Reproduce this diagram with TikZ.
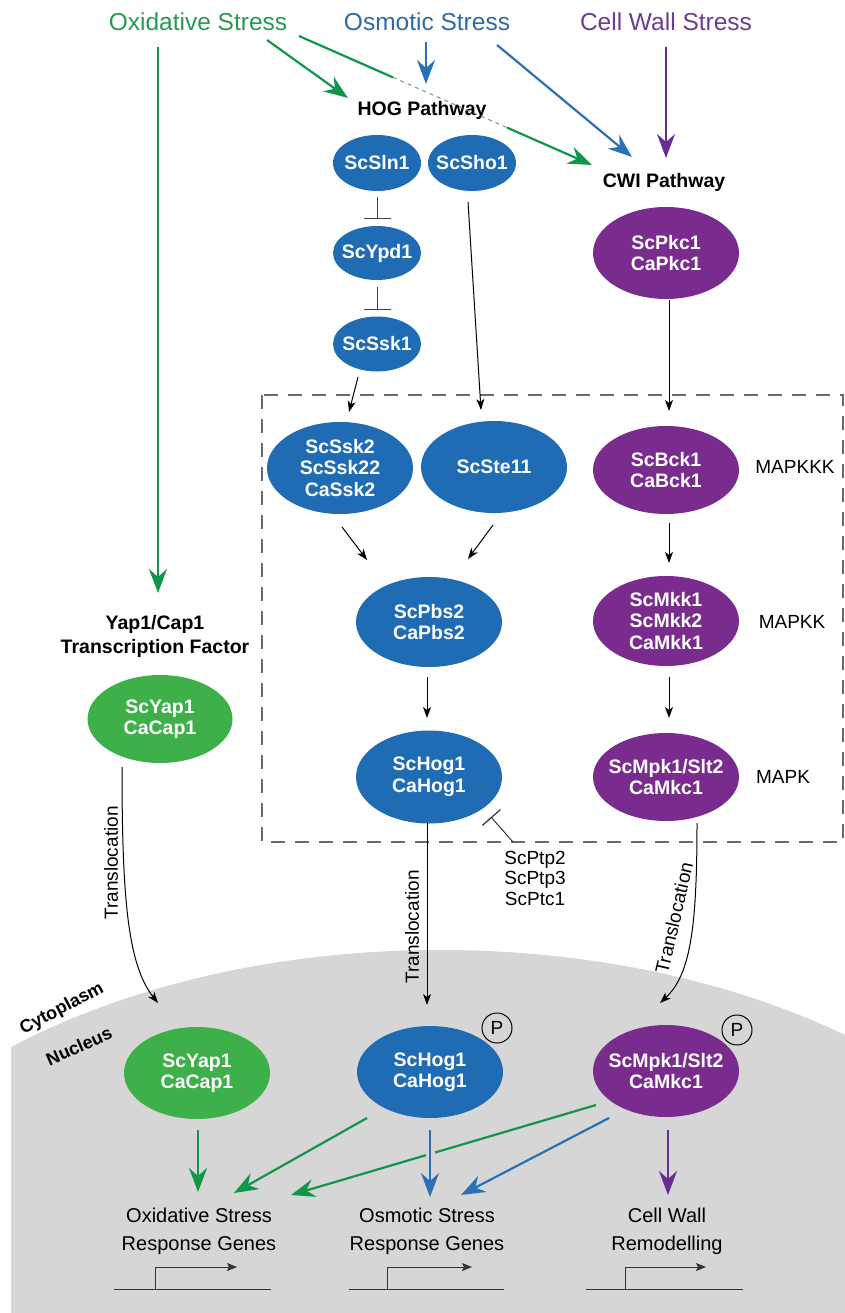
\documentclass[tikz,border=0pt]{standalone}
\usepackage{fontspec}
\setmainfont{Liberation Sans}
\usetikzlibrary{shapes.geometric, arrows.meta, calc}
\definecolor{gline}{RGB}{16,150,72}
\definecolor{bline}{RGB}{40,112,184}
\definecolor{pline}{RGB}{104,44,146}
\definecolor{yapfill}{RGB}{62,176,74}
\definecolor{hogfill}{RGB}{31,108,180}
\definecolor{cwifill}{RGB}{122,44,142}
\definecolor{gtitle}{RGB}{40,154,80}
\definecolor{btitle}{RGB}{46,106,166}
\definecolor{ptitle}{RGB}{111,58,145}
\definecolor{nucgray}{RGB}{214,214,214}
\definecolor{boxgray}{RGB}{105,105,105}
\begin{document}
\begin{tikzpicture}[x=1pt,y=1pt,
  nd/.style={ellipse, inner xsep=-12pt, inner ysep=0pt, align=center, text=white, font=\bfseries\fontsize{19.5}{21.5}\selectfont},
  sz/.style 2 args={minimum width=#1pt, minimum height=#2pt},
  hogn/.style={nd, fill=hogfill},
  cwin/.style={nd, fill=cwifill},
  yapn/.style={nd, fill=yapfill},
  title/.style={font=\fontsize{24.5}{27}\selectfont, inner sep=0pt},
  hdr/.style={font=\bfseries\fontsize{19.5}{24}\selectfont, align=center, inner sep=0pt},
  lbl/.style={font=\fontsize{19}{20.5}\selectfont, align=center, inner sep=0pt},
  gene/.style={font=\fontsize{20}{28}\selectfont, align=center, inner sep=0pt},
  blk/.style={draw=black, line width=1pt, -{Stealth[length=11pt,width=8pt,inset=3pt]}},
  col/.style={line width=2.2pt, -{Stealth[length=24pt,width=18pt,inset=8pt]}},
  inh/.style={draw=black!75, line width=1pt, -{Bar[width=27pt,line width=1.2pt]}},
  prom/.style={draw=black!80, line width=1pt},
  pcirc/.style={draw=black, line width=1pt, circle, minimum size=30pt, inner sep=0pt, font=\fontsize{19}{20}\selectfont},
]
\useasboundingbox (0,0) rectangle (845,-1313);

% nucleus background
\begin{scope}
  \clip (11,-1313) rectangle (845,-900);
  \fill[nucgray] (440,-1340) ellipse [x radius=650, y radius=390];
\end{scope}

% dashed box
\draw[boxgray, line width=1.3pt, dash pattern=on 14pt off 10pt] (262,-395) rectangle (843,-842);

% titles
\node[title, text=gtitle] (oxi) at (198,-22) {Oxidative Stress};
\node[title, text=btitle] (osm) at (427,-22) {Osmotic Stress};
\node[title, text=ptitle] (cws) at (666,-22) {Cell Wall Stress};

\node[hdr] (hogp) at (422,-110) {HOG Pathway};
\node[hdr] (cwip) at (664,-182) {CWI Pathway};
\node[hdr] (yaplbl) at (155,-636) {Yap1/Cap1\\Transcription Factor};

% HOG nodes
\node[hogn, sz={88}{56}] (sln1) at (377,-163) {ScSln1};
\node[hogn, sz={88}{56}] (sho1) at (472,-163) {ScSho1};
\node[hogn, sz={88}{54}] (ypd1) at (377,-253) {ScYpd1};
\node[hogn, sz={88}{55}] (ssk1) at (377,-344) {ScSsk1};
\node[hogn, sz={146}{92}] (ssk2) at (340,-468) {ScSsk2\\ScSsk22\\CaSsk2};
\node[hogn, sz={146}{92}] (ste11) at (494,-467) {ScSte11};
\node[hogn, sz={146}{90}] (pbs2) at (429,-622) {ScPbs2\\CaPbs2};
\node[hogn, sz={146}{93}] (hog1) at (429,-777) {ScHog1\\CaHog1};

% CWI nodes
\node[cwin, sz={146}{92}] (pkc1) at (666,-253) {ScPkc1\\CaPkc1};
\node[cwin, sz={146}{88}] (bck1) at (666,-470) {ScBck1\\CaBck1};
\node[cwin, sz={146}{90}] (mkk1) at (666,-621) {ScMkk1\\ScMkk2\\CaMkk1};
\node[cwin, sz={146}{88}] (mpk1) at (666,-777) {ScMpk1/Slt2\\CaMkc1};

\node[lbl] (mkkk) at (795,-467) {MAPKKK};
\node[lbl] (mkk) at (792,-622) {MAPKK};
\node[lbl] (mk) at (783,-777) {MAPK};

% Yap
\node[yapn, sz={145}{88}] (yap) at (160,-719) {ScYap1\\CaCap1};

% phosphatases
\node[lbl] (ptp) at (535,-878) {ScPtp2\\ScPtp3\\ScPtc1};

% nucleus nodes
\node[yapn, sz={146}{92}] (nyap) at (197,-1073) {ScYap1\\CaCap1};
\node[hogn, sz={146}{92}] (nhog) at (430,-1072) {ScHog1\\CaHog1};
\node[cwin, sz={146}{92}] (nmpk) at (666,-1071) {ScMpk1/Slt2\\CaMkc1};
\node[pcirc] (p1) at (497,-1028) {P};
\node[pcirc] (p2) at (737,-1030) {P};

\node[font=\bfseries\fontsize{18}{20}\selectfont, rotate=28, inner sep=0pt] (cyto) at (62,-1009) {Cytoplasm};
\node[font=\bfseries\fontsize{18}{20}\selectfont, rotate=24, inner sep=0pt] (nucl) at (79,-1046) {Nucleus};

% genes
\node[gene] (goxi) at (199,-1231) {Oxidative Stress\\Response Genes};
\node[gene] (gosm) at (427,-1231) {Osmotic Stress\\Response Genes};
\node[gene] (gcw) at (667,-1231) {Cell Wall\\Remodelling};

% coordinates for connector ends
\coordinate (g1a) at (158,-47);   \coordinate (g1b) at (158,-593);
\coordinate (g2a) at (267,-40);   \coordinate (g2b) at (348,-98);
\coordinate (g3a) at (299,-36);   \coordinate (g3m) at (393,-77.4);
\coordinate (g3n) at (507,-127.6); \coordinate (g3b) at (592,-165);
\coordinate (b1a) at (426,-42);   \coordinate (b1b) at (426,-84);
\coordinate (b2a) at (497,-45);   \coordinate (b2b) at (632,-157);
\coordinate (p1a) at (666,-47);   \coordinate (p1b) at (666,-158);

% top colored arrows
\draw[col, gline] (g1a) -- (g1b);
\draw[col, gline] (g2a) -- (g2b);
\draw[gline, line width=2.2pt] (g3a) -- (g3m);
\draw[black!45, line width=1pt, dash pattern=on 4pt off 4pt] (g3m) -- (g3n);
\draw[col, gline] (g3n) -- (g3b);
\draw[col, bline] (b1a) -- (b1b);
\draw[col, bline] (b2a) -- (b2b);
\draw[col, pline] (p1a) -- (p1b);

% inhibitions
\draw[inh] ([yshift=-6pt]sln1.south) -- ([yshift=7pt]ypd1.north);
\draw[inh] ([yshift=-7pt]ypd1.south) -- ([yshift=6pt]ssk1.north);
\coordinate (ptpa) at (513,-842);
\draw[draw=black!80, line width=1pt, -{Bar[width=24pt,line width=1.2pt]}] (ptpa) -- (491,-817);

% black arrows
\draw[blk] (468,-202) -- (481,-410);
\draw[blk] (358,-377) -- (349,-412);
\draw[blk] (669,-300) -- (669,-411);
\draw[blk] (342,-527) -- (367,-560);
\draw[blk] (493,-525) -- (468,-559);
\draw[blk] (427,-677) -- (427,-718);
\draw[blk] (669,-523) -- (669,-563);
\draw[blk] (669,-677) -- (669,-718);

% translocations
\draw[blk] (122,-767) .. controls (122,-900) and (128,-965) .. (158,-1003);
\draw[blk] (427,-823) -- (427,-1005);
\draw[blk] (697,-823) .. controls (697,-930) and (690,-975) .. (660,-1003);
\node[lbl, rotate=90] (tl1) at (111,-863) {Translocation};
\node[lbl, rotate=90] (tl2) at (412,-927) {Translocation};
\node[lbl, rotate=77] (tl3) at (674,-918) {Translocation};

% nucleus to genes
\draw[col, gline] (198,-1130) -- (198,-1192);
\draw[col, gline] (367,-1118) -- (234,-1193);
\draw[col, gline] (596,-1105) -- (291,-1195);
\draw[nucgray, line width=9pt] (430,-1140) -- (430,-1170);
\draw[col, bline] (430,-1130) -- (430,-1197);
\draw[col, bline] (609,-1118) -- (461,-1195);
\draw[col, pline] (668,-1130) -- (668,-1195);

% promoters
\draw[prom] (114,-1289) -- (271,-1289);
\draw[prom, -{Stealth[length=10pt,width=8pt,inset=2pt]}] (155,-1289) -- (155,-1267) -- (237,-1267);
\draw[prom] (349,-1289) -- (504,-1289);
\draw[prom, -{Stealth[length=10pt,width=8pt,inset=2pt]}] (387,-1289) -- (387,-1267) -- (472,-1267);
\draw[prom] (586,-1289) -- (743,-1289);
\draw[prom, -{Stealth[length=10pt,width=8pt,inset=2pt]}] (625,-1289) -- (625,-1267) -- (706,-1267);
\end{tikzpicture}
\end{document}
